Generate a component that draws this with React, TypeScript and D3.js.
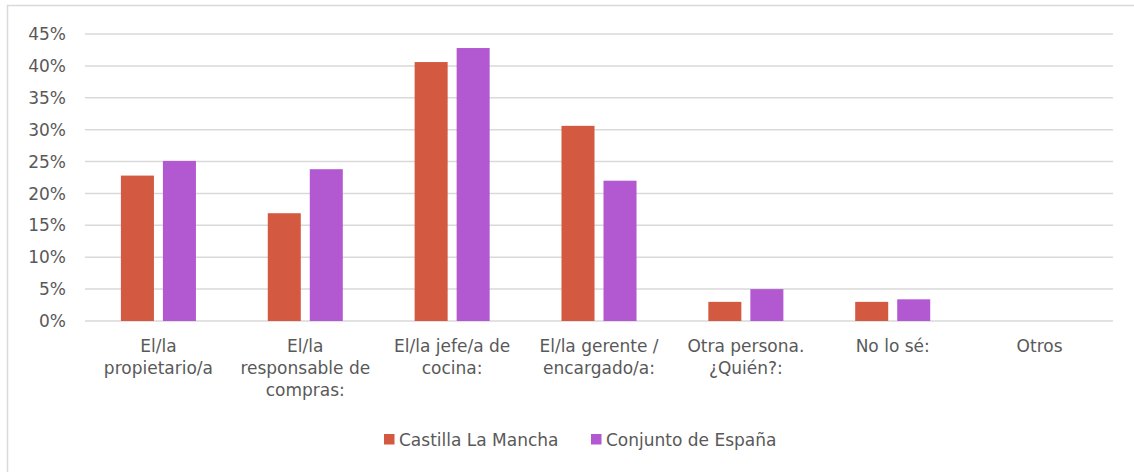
import React from "react";
import * as d3 from "d3";

const categories: string[][] = [
  ["El/la", "propietario/a"],
  ["El/la", "responsable de", "compras:"],
  ["El/la jefe/a de", "cocina:"],
  ["El/la gerente /", "encargado/a:"],
  ["Otra persona.", "¿Quién?:"],
  ["No lo sé:"],
  ["Otros"],
];
const seriesNames = ["Castilla La Mancha", "Conjunto de España"];
const castilla = [0.228, 0.169, 0.406, 0.306, 0.030, 0.030, 0];
const espana = [0.251, 0.238, 0.428, 0.220, 0.050, 0.034, 0];
const yTicks = [0, 0.05, 0.1, 0.15, 0.2, 0.25, 0.3, 0.35, 0.4, 0.45];
const colors = ["#D35A40", "#B259D2"];

const W = 1134;
const H = 472;
const FONT = "'DejaVu Sans', sans-serif";
const TXT = "#595959";
const FS = 17;

export default function App() {
  const catKeys = categories.map((c) => c.join(" "));
  const left = 85;
  const right = 1113;
  const x0 = d3
    .scaleBand<string>()
    .domain(catKeys)
    .range([left, right])
    .paddingInner(0.489)
    .paddingOuter(0.2445);
  const x1 = d3
    .scaleBand<string>()
    .domain(seriesNames)
    .range([0, x0.bandwidth()])
    .paddingInner(0.214)
    .paddingOuter(0);
  const y = d3.scaleLinear().domain([0, 0.45]).range([321, 34]);
  const fmt = d3.format(".0%");
  const data = [castilla, espana];

  return (
    <svg
      width={W}
      height={H}
      style={{ position: "absolute", left: 0, top: 0, background: "#fff" }}
      fontFamily={FONT}
    >
      <rect x={7.5} y={5.5} width={W + 10} height={H + 10} fill="#fff" stroke="#D9D9D9" strokeWidth={1.5} />
      {yTicks.map((t) => (
        <g key={t}>
          <line x1={left} x2={right} y1={y(t)} y2={y(t)} stroke="#D9D9D9" strokeWidth={1.5} />
          <text x={66} y={y(t)} dy="0.36em" textAnchor="end" fontSize={FS} fill={TXT}>
            {fmt(t)}
          </text>
        </g>
      ))}
      {data.map((vals, si) =>
        vals.map((v, ci) =>
          v > 0 ? (
            <rect
              key={`${si}-${ci}`}
              x={(x0(catKeys[ci]) ?? 0) + (x1(seriesNames[si]) ?? 0)}
              y={y(v)}
              width={x1.bandwidth()}
              height={y(0) - y(v)}
              fill={colors[si]}
            />
          ) : null
        )
      )}
      {categories.map((lines, ci) => {
        const cx = (x0(catKeys[ci]) ?? 0) + x0.bandwidth() / 2;
        return (
          <text key={ci} textAnchor="middle" fontSize={FS} fill={TXT}>
            {lines.map((l, li) => (
              <tspan key={li} x={cx} y={352 + li * 22}>
                {l}
              </tspan>
            ))}
          </text>
        );
      })}
      {seriesNames.map((s, si) => {
        const lx = si === 0 ? 384 : 591;
        return (
          <g key={s}>
            <rect x={lx} y={434} width={10.5} height={10.5} fill={colors[si]} />
            <text x={lx + 15} y={446} fontSize={FS} fill={TXT}>
              {s}
            </text>
          </g>
        );
      })}
    </svg>
  );
}
